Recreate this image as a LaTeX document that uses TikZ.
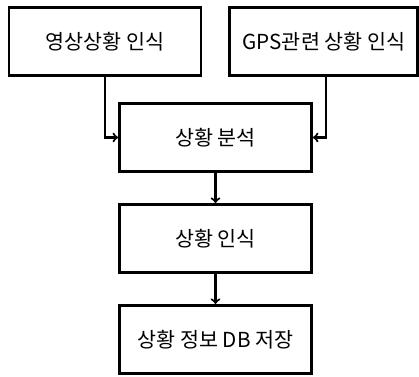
\documentclass[tikz,border=0pt]{standalone}
\usepackage{fontspec}
\setmainfont{Noto Sans CJK KR}
\usetikzlibrary{arrows}
\usetikzlibrary{positioning}
\begin{document}
\begin{tikzpicture}[x=0.75pt,y=-0.75pt,node distance=22.5pt,
  every node/.style={draw,rectangle,line width=2.2pt,minimum width=144pt,minimum height=51pt,font=\fontsize{15.5}{18}\selectfont},
  link/.style={-to,line width=1.6pt}]
  \useasboundingbox (0,0) rectangle (419,377);
  \node (video) at (105,41.5){영상상황 인식};
  \node[right=19.5pt of video,minimum width=141pt] (gps){GPS관련 상황 인식};
  \node (anal) at (215.5,137.5){상황 분석};
  \node[below=of anal] (recog){상황 인식};
  \node[below=of recog] (store){상황 정보 DB 저장};
  \draw[link](video)|-(anal);
  \draw[link](gps.south-|326,0)|-(anal);
  \draw[link](anal)--(recog);
  \draw[link](recog)--(store);
\end{tikzpicture}
\end{document}
